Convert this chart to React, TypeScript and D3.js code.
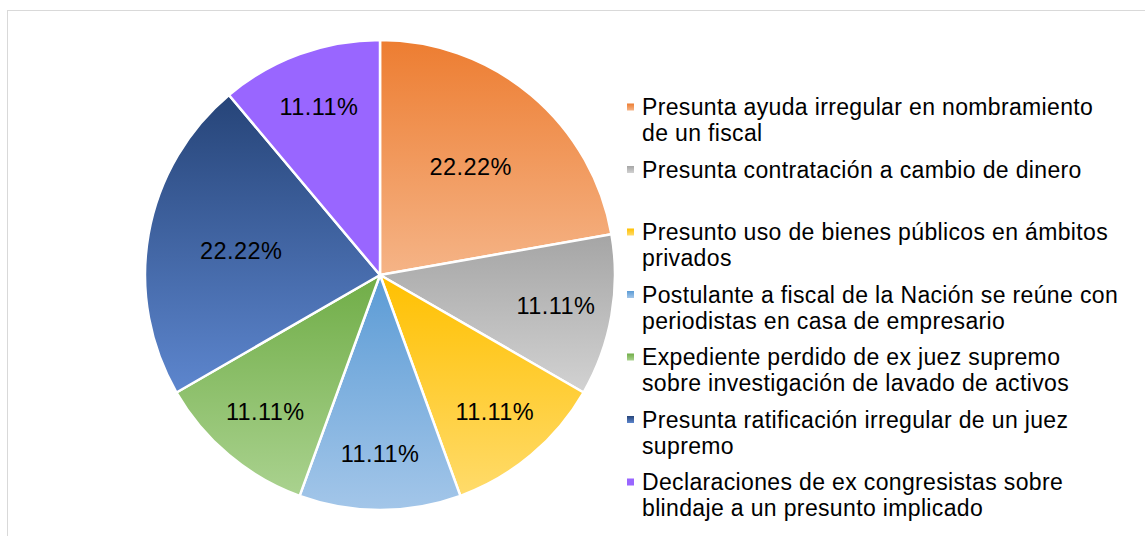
import { useEffect, useRef } from 'react';
import * as d3 from 'd3';

// categories in slice order (clockwise from 12 o'clock)
const categories = [
  'Presunta ayuda irregular en nombramiento\nde un fiscal',
  'Presunta contratación a cambio de dinero',
  'Presunto uso de bienes públicos en ámbitos\nprivados',
  'Postulante a fiscal de la Nación se reúne con\nperiodistas en casa de empresario',
  'Expediente perdido de ex juez supremo\nsobre investigación de lavado de activos',
  'Presunta ratificación irregular de un juez\nsupremo',
  'Declaraciones de ex congresistas sobre\nblindaje a un presunto implicado',
];
const counts = [2, 1, 1, 1, 1, 2, 1];
const colorTop = ['#ED7D31', '#A5A5A5', '#FFC000', '#5B9BD5', '#70AD47', '#264478', '#9966FF'];
const colorBottom = ['#F5B487', '#D2D2D2', '#FFDB6B', '#A3C6E9', '#AAD28F', '#5D86CE', '#9966FF'];

const W = 1145;
const H = 536;

function App() {
  const svgRef = useRef<SVGSVGElement>(null);

  useEffect(() => {
    if (!svgRef.current) return;
    const svg = d3.select(svgRef.current);
    svg.selectAll('*').remove();

    const cx = 380;
    const cy = 275;
    const r = 235;
    const total = d3.sum(counts);

    // frame
    svg.append('rect')
      .attr('x', 7.5).attr('y', 10.5)
      .attr('width', W + 20).attr('height', H + 20)
      .attr('fill', '#fff')
      .attr('stroke', '#d9d9d9')
      .attr('stroke-width', 1);

    const defs = svg.append('defs');
    counts.forEach((_, i) => {
      const grad = defs.append('linearGradient')
        .attr('id', `slice-grad-${i}`)
        .attr('x1', '0%').attr('y1', '0%')
        .attr('x2', '0%').attr('y2', '100%');
      grad.append('stop').attr('offset', '0%').attr('stop-color', colorTop[i]);
      grad.append('stop').attr('offset', '100%').attr('stop-color', colorBottom[i]);
    });

    const pie = d3.pie<number>().value(d => d).sort(null);
    const arcs = pie(counts);
    const arc = d3.arc<d3.PieArcDatum<number>>().innerRadius(0).outerRadius(r);

    const g = svg.append('g').attr('transform', `translate(${cx}, ${cy})`);

    g.selectAll('path.slice')
      .data(arcs)
      .enter()
      .append('path')
      .attr('class', 'slice')
      .attr('d', arc)
      .attr('fill', (_, i) => `url(#slice-grad-${i})`)
      .attr('stroke', '#fff')
      .attr('stroke-width', 2.5)
      .attr('stroke-linejoin', 'round');

    // data labels
    g.selectAll('text.pct')
      .data(arcs)
      .enter()
      .append('text')
      .attr('class', 'pct')
      .attr('transform', d => {
        const lr = d.data / total > 0.2 ? r * 0.6 : r * 0.76;
        const [x, y] = d3.arc<d3.PieArcDatum<number>>().innerRadius(lr).outerRadius(lr).centroid(d);
        return `translate(${x}, ${y})`;
      })
      .attr('text-anchor', 'middle')
      .attr('dy', '0.35em')
      .attr('fill', '#000')
      .style('font-family', '"Liberation Sans", Arial, sans-serif')
      .style('font-size', '23.5px')
      .style('letter-spacing', '0.4px')
      .text(d => `${((d.data / total) * 100).toFixed(2)}%`);

    // legend
    const legendY = d3.scaleLinear().domain([0, categories.length - 1]).range([107, 482]);
    const legend = svg.append('g');
    categories.forEach((label, i) => {
      const y = legendY(i);
      legend.append('rect')
        .attr('x', 627).attr('y', y - 3.5)
        .attr('width', 7).attr('height', 7)
        .attr('fill', `url(#slice-grad-${i})`);
      const t = legend.append('text')
        .attr('x', 642).attr('y', y)
        .attr('fill', '#000')
        .style('font-family', '"Liberation Sans", Arial, sans-serif')
        .style('font-size', '23px')
        .style('letter-spacing', '0.35px');
      label.split('\n').forEach((line, j) => {
        t.append('tspan')
          .attr('x', 642)
          .attr('y', y + j * 26)
          .attr('dy', '0.35em')
          .text(line);
      });
    });
  }, []);

  return (
    <svg
      ref={svgRef}
      width={W}
      height={H}
      style={{ position: 'absolute', left: 0, top: 0, background: '#fff' }}
    />
  );
}

export default App;
